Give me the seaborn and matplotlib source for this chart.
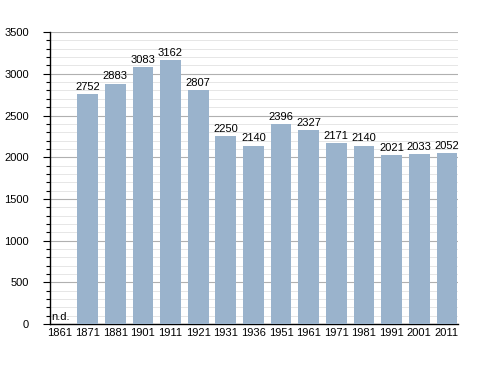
import matplotlib
matplotlib.use("Agg")
import matplotlib.pyplot as plt
import seaborn as sns
import pandas as pd
from matplotlib.ticker import MultipleLocator

years = ["1861", "1871", "1881", "1901", "1911", "1921", "1931", "1936",
         "1951", "1961", "1971", "1981", "1991", "2001", "2011"]
population = [0, 2752, 2883, 3083, 3162, 2807, 2250, 2140,
              2396, 2327, 2171, 2140, 2021, 2033, 2052]
labels = ["n.d.", "2752", "2883", "3083", "3162", "2807", "2250", "2140",
          "2396", "2327", "2171", "2140", "2021", "2033", "2052"]

df = pd.DataFrame({"year": years, "pop": population})

sns.set_style("white")
plt.rcParams['font.family'] = ['Liberation Sans', 'DejaVu Sans']
plt.rcParams['text.color'] = 'black'
plt.rcParams['xtick.color'] = 'black'
plt.rcParams['ytick.color'] = 'black'

fig = plt.figure(figsize=(4.88, 3.73), dpi=100)
ax = fig.add_axes([0.1025, 0.131, 0.8360, 0.783])

sns.barplot(data=df, x="year", y="pop", color="#9ab3cc", saturation=1,
            width=0.75, ax=ax, zorder=3, linewidth=0)

ax.set_ylim(0, 3500)
ax.set_xlim(-0.36, 14.4)
ax.yaxis.set_major_locator(MultipleLocator(500))
ax.yaxis.set_minor_locator(MultipleLocator(100))
ax.grid(which="major", axis="y", color="#b0b0b0", linewidth=0.8, zorder=0)
ax.grid(which="minor", axis="y", color="#e6e6e6", linewidth=0.7, zorder=0)
ax.set_axisbelow(True)

for s in ["top", "right"]:
    ax.spines[s].set_visible(False)
for s in ["left", "bottom"]:
    ax.spines[s].set_color("black")
    ax.spines[s].set_linewidth(1.0)

ax.tick_params(axis="y", which="major", left=True, length=5, width=0.8,
               labelsize=8, pad=10, colors="black")
ax.tick_params(axis="y", which="minor", left=True, length=3, width=0.8,
               colors="black")
ax.tick_params(axis="x", bottom=False, length=0, labelsize=8, pad=3,
               colors="black")
ax.set_xlabel("")
ax.set_ylabel("")

for i, (v, t) in enumerate(zip(population, labels)):
    if t == "n.d.":
        ax.text(i - 0.3, 20, t, ha="left", va="bottom", fontsize=8,
                color="black")
    else:
        ax.text(i, v + 25, t, ha="center", va="bottom", fontsize=8,
                color="black")

fig.savefig("out.png", dpi=100)
